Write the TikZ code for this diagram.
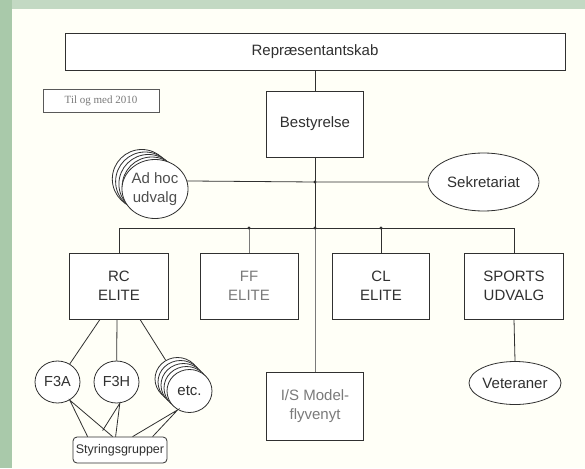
\documentclass[tikz,border=0pt]{standalone}
\usepackage{fontspec}
\setmainfont{Liberation Sans}
\newfontfamily\tnrfont{Liberation Serif}
\usetikzlibrary{shapes.geometric,calc}
\definecolor{framegreen}{HTML}{A9C9AA}
\definecolor{frametop}{HTML}{C3D9C3}
\definecolor{ink}{HTML}{303030}
\definecolor{pale}{HTML}{7A7A7A}
\begin{document}
\begin{tikzpicture}[x=1pt,y=-1pt,
  line width=0.8pt,
  box/.style={draw=ink,fill=white,inner sep=0pt,align=center,text=ink,
    font=\fontsize{15}{19}\selectfont},
  oval/.style={draw=ink,fill=white,ellipse,inner sep=0pt,align=center,text=ink,
    font=\fontsize{15}{18}\selectfont},
  smalloval/.style={oval,font=\fontsize{14.5}{16}\selectfont},
  link/.style={draw=ink},
  palelink/.style={draw=pale},
  dot/.style={fill=ink}]
% background
\fill[framegreen] (0,0) rectangle (585,468);
\fill[frametop] (12,0) rectangle (585,9);
\fill[white!97!yellow] (12,9) rectangle (585,468);
\useasboundingbox (0,0) rectangle (585,468);

% top
\node[box,minimum width=500,minimum height=37] (rep) at (315,51.5) {Repræsentantskab};
\node[draw=ink!80,line width=0.6pt,fill=white,minimum width=116,minimum height=23,inner sep=0pt,
  text=pale,font=\tnrfont\fontsize{11}{12}\selectfont] (til) at (101,101) {Til og med 2010};
\node[box,minimum width=97,minimum height=66] (best) at (315,124) {Bestyrelse};

% ad hoc stacked circles
\foreach \k in {4,3,2,1}{
  \node[oval,minimum width=59,minimum height=59] (adhoc\k) at ({155-3.3*\k},{189-2.5*\k}) {};
}
\node[oval,minimum width=59,minimum height=59,text=ink!85,font=\fontsize{15}{19}\selectfont] (adhoc) at (155,189) {Ad hoc\\udvalg};

\node[oval,minimum width=111,minimum height=58] (sek) at (483.5,182) {Sekretariat};

\coordinate (j1) at (315,182);
\coordinate (j2) at (315,228);

% second row
\node[box,minimum width=99,minimum height=66] (rc) at (119,286) {RC\\ELITE};
\node[box,minimum width=98,minimum height=66,text=pale] (ff) at (249,286) {FF\\ELITE};
\node[box,minimum width=97,minimum height=66] (cl) at (381,286) {CL\\ELITE};
\node[box,minimum width=99,minimum height=66] (sports) at (514,286) {SPORTS\\UDVALG};

\node[box,minimum width=97,minimum height=68,text=pale] (is) at (315,406) {I/S Model-\\flyvenyt};
\node[oval,minimum width=84,minimum height=43] (vet) at (515,383) {Veteraner};

% RC sub groups
\node[smalloval,minimum width=45,minimum height=42] (f3a) at (57.5,382) {F3A};
\node[smalloval,minimum width=45,minimum height=42] (f3h) at (116.5,382) {F3H};
\foreach \k in {4,3,2,1}{
  \node[oval,minimum width=45,minimum height=43] (etc\k) at ({189.5-3*\k},{391-3*\k}) {};
}
\node[oval,minimum width=45,minimum height=43] (etc) at (189.5,391) {etc.};

\node[draw=ink,fill=white,rounded corners=4pt,minimum width=94,minimum height=26,inner sep=0pt,
  text=ink,font=\fontsize{12.5}{14}\selectfont] (sty) at (120,450) {Styringsgrupper};

% connectors
\draw[link] (rep.south) -- (best.north);
\draw[link] (best.south) -- (j1);
\draw[link] (adhoc.14) -- (j1) -- (sek.west);
\draw[link] (j1) -- (j2);
\draw[palelink] (j2) -- (is.north);
\draw[link] (rc.north |- j2) -- (sports.north |- j2);
\draw[link] (rc.north |- j2) -- (rc.north);
\draw[palelink] (ff.north |- j2) -- (ff.north);
\draw[link] (cl.north |- j2) -- (cl.north);
\draw[link] (sports.north |- j2) -- (sports.north);
\draw[link] (sports.south) -- (vet.north);
\fill[dot] (j1) circle (1.6);
\fill[dot] (j2) circle (1.6);
\fill[dot] (ff.north |- j2) circle (1.6);
\fill[dot] (cl.north |- j2) circle (1.6);

\coordinate (ra) at ($(rc.south)+(-19,0)$);
\coordinate (rb) at ($(rc.south)+(-2,0)$);
\coordinate (rcc) at ($(rc.south)+(21,0)$);
\draw[link] (ra) -- (f3a);
\draw[link] (rb) -- (f3h);
\draw[link] (rcc) -- (etc4);

\draw[link] ($(sty.north west)+(15,0)$) -- (f3a.-56) -- ($(sty.north west)+(40,0)$);
\draw[link] ($(sty.north west)+(30,-6)$) -- (f3h.-81) -- ($(sty.north west)+(43,0)$);
\draw[link] ($(sty.north west)+(60,0)$) -- (etc.-122) -- ($(sty.north west)+(80,0)$);
\end{tikzpicture}
\end{document}
